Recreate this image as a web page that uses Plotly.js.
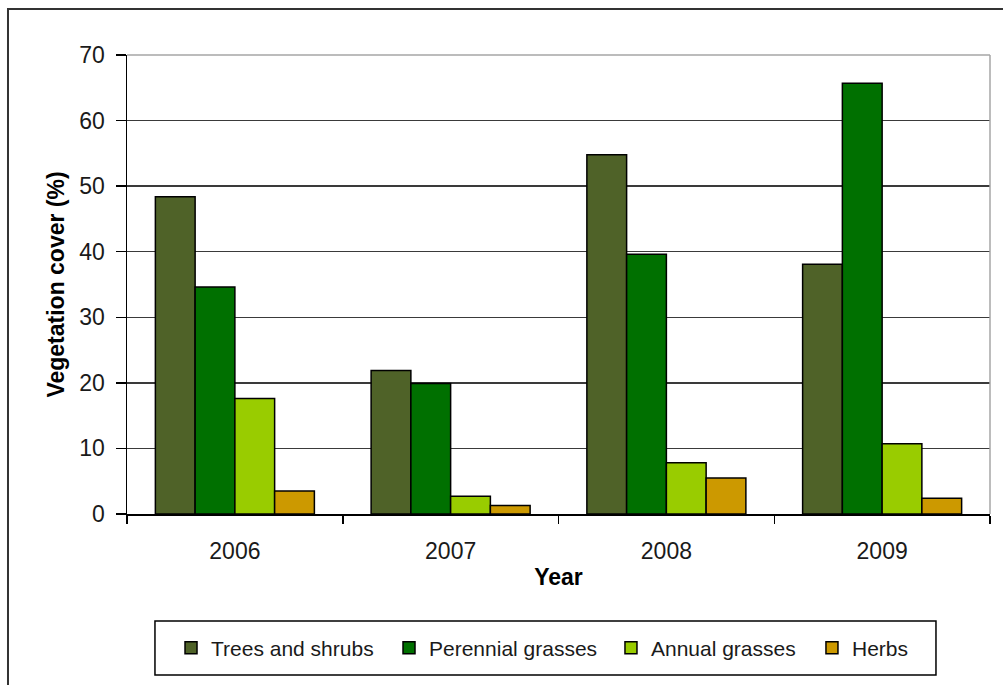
<!DOCTYPE html>
<html>
<head>
<meta charset="utf-8">
<script src="https://cdn.plot.ly/plotly-3.0.1.min.js"></script>
<style>
  html, body { margin: 0; padding: 0; background: #ffffff; }
  #chart { width: 1003px; height: 685px; }
</style>
</head>
<body>
<div id="chart"></div>
<script>
// Survey years
const years = ['2006', '2007', '2008', '2009'];

// Vegetation cover (%) by life form
const treesShrubs      = [48.4, 21.9, 54.8, 38.1];
const perennialGrasses = [34.6, 19.9, 39.6, 65.7];
const annualGrasses    = [17.6, 2.7, 7.8, 10.7];
const herbs            = [3.5, 1.3, 5.5, 2.4];

const seriesNames  = ['Trees and shrubs', 'Perennial grasses', 'Annual grasses', 'Herbs'];
const seriesValues = [treesShrubs, perennialGrasses, annualGrasses, herbs];
const seriesColors = ['#4f6228', '#007000', '#99cc00', '#cc9900'];

const yTicks = [0, 10, 20, 30, 40, 50, 60, 70];

const FONT = 'Liberation Sans, Arial, sans-serif';

// one legend per series so every entry sits at its own spot in the key box
const legendIds = ['legend', 'legend2', 'legend3', 'legend4'];
const legendX   = [0.0510, 0.3036, 0.5608, 0.7937];

const traces = seriesNames.map((name, i) => ({
  type: 'bar',
  name: name,
  x: years,
  y: seriesValues[i],
  legend: legendIds[i],
  marker: { color: seriesColors[i], line: { color: '#000000', width: 1.5 } },
  hoverinfo: 'x+y+name'
}));

const layout = {
  width: 1003,
  height: 685,
  margin: { l: 127, r: 13, t: 55, b: 171 },
  paper_bgcolor: '#ffffff',
  plot_bgcolor: '#ffffff',
  font: { family: FONT, color: '#1a1a1a', size: 23 },
  barmode: 'group',
  bargap: 0.263,
  bargroupgap: 0,
  showlegend: true,
  xaxis: {
    type: 'category',
    showline: true,
    linecolor: '#000000',
    linewidth: 1.5,
    ticks: 'outside',
    tickson: 'boundaries',
    ticklen: 8,
    tickwidth: 1.5,
    tickcolor: '#000000',
    ticklabelstandoff: 16,
    tickfont: { family: FONT, size: 23, color: '#1a1a1a' },
    showgrid: false,
    zeroline: false,
    automargin: true,
    title: { text: 'Year', font: { family: FONT, size: 23, color: '#000000', weight: 'bold' }, standoff: 6 }
  },
  yaxis: {
    range: [0, 70],
    tickvals: yTicks,
    ticktext: yTicks.map(String),
    showline: true,
    linecolor: '#000000',
    linewidth: 1.5,
    ticks: 'outside',
    ticklen: 10,
    tickwidth: 1.5,
    tickcolor: '#000000',
    ticklabelstandoff: 6,
    tickfont: { family: FONT, size: 23, color: '#1a1a1a' },
    showgrid: true,
    gridcolor: '#3a3a3a',
    gridwidth: 1.5,
    zeroline: false,
    automargin: true,
    title: { text: 'Vegetation cover (%)', font: { family: FONT, size: 23, color: '#000000', weight: 'bold' }, standoff: 8 }
  },
  shapes: [
    // grey plot-area frame on the top and right
    { type: 'line', xref: 'paper', yref: 'paper', x0: 0, x1: 1, y0: 1, y1: 1,
      line: { color: '#a6a6a6', width: 1.5 }, layer: 'above' },
    { type: 'line', xref: 'paper', yref: 'paper', x0: 1, x1: 1, y0: 0, y1: 1,
      line: { color: '#a6a6a6', width: 1.5 }, layer: 'above' },
    // legend box
    { type: 'rect', xref: 'paper', yref: 'paper', x0: 0.0324, x1: 0.9374, y0: -0.3508, y1: -0.2331,
      line: { color: '#000000', width: 1.5 }, fillcolor: 'rgba(0,0,0,0)' },
    // outer chart frame
    { type: 'rect', xref: 'paper', yref: 'paper', x0: -0.1379, x1: 1.03, y0: -0.40, y1: 1.1002,
      line: { color: '#333333', width: 2 }, fillcolor: 'rgba(0,0,0,0)' }
  ]
};

legendIds.forEach((id, i) => {
  layout[id] = {
    orientation: 'h',
    x: legendX[i], xanchor: 'left',
    y: -0.292, yanchor: 'middle',
    font: { family: FONT, size: 21, color: '#1a1a1a' },
    bgcolor: 'rgba(0,0,0,0)',
    borderwidth: 0
  };
});

Plotly.newPlot('chart', traces, layout, { displayModeBar: false, staticPlot: true });
</script>
</body>
</html>
